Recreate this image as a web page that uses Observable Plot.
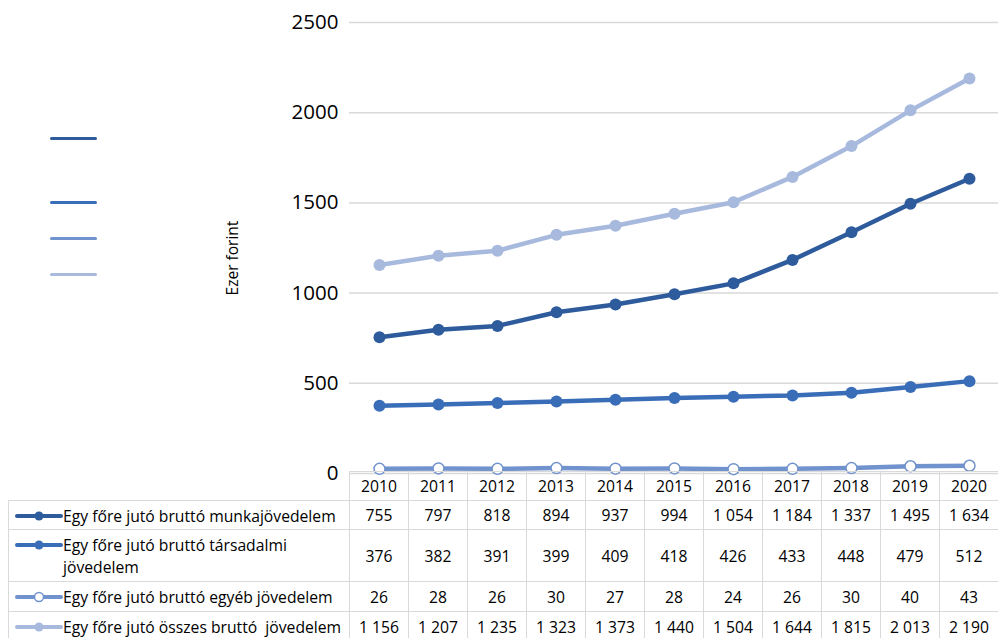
<!DOCTYPE html>
<html>
<head>
<meta charset="utf-8">
<script src="https://cdn.jsdelivr.net/npm/d3@7"></script>
<script src="https://cdn.jsdelivr.net/npm/@observablehq/plot@0.6"></script>
<style>
  html, body { margin: 0; padding: 0; background: #fff; }
  #wrap { position: relative; width: 998px; height: 638px; overflow: hidden; font-family: "Open Sans", sans-serif; }
  #chart { position: absolute; left: 0; top: 0; }
  .leg { position: absolute; left: 50px; width: 47px; height: 3px; border-radius: 1.5px; }
  #ylab { position: absolute; left: 232px; top: 258px; transform: translate(-50%, -50%) rotate(-90deg); font-size: 15.5px; color: #000; white-space: nowrap; }
  table { position: absolute; left: 8px; top: 471px; border-collapse: collapse; table-layout: fixed; width: 990px; font-size: 15.7px; color: #000; }
  td { border: 1.5px solid #d9d9d9; text-align: center; padding: 0; white-space: nowrap; }
  td.blank { border: none; }
  td.lab { text-align: left; white-space: normal; vertical-align: top; }
  .labin { display: flex; align-items: flex-start; }
  .labin svg { flex: 0 0 auto; margin-left: 6px; }
  .labin span { white-space: pre-wrap; line-height: 22px; }
</style>
</head>
<body>
<div id="wrap">
  <div id="chart"></div>
  <div id="ylab">Ezer forint</div>
  <table id="tbl"></table>
</div>
<script>
const years = ["2010","2011","2012","2013","2014","2015","2016","2017","2018","2019","2020"];
const munka = [755, 797, 818, 894, 937, 994, 1054, 1184, 1337, 1495, 1634];
const tarsadalmi = [376, 382, 391, 399, 409, 418, 426, 433, 448, 479, 512];
const egyeb = [26, 28, 26, 30, 27, 28, 24, 26, 30, 40, 43];
const osszes = [1156, 1207, 1235, 1323, 1373, 1440, 1504, 1644, 1815, 2013, 2190];
const seriesNames = [
  "Egy főre jutó bruttó munkajövedelem",
  "Egy főre jutó bruttó társadalmi jövedelem",
  "Egy főre jutó bruttó egyéb jövedelem",
  "Egy főre jutó összes bruttó  jövedelem"
];
const yTicks = [0, 500, 1000, 1500, 2000, 2500];

const seriesValues = [munka, tarsadalmi, egyeb, osszes];
const colors = ["#2e5b9c", "#3a6db8", "#7092cd", "#a8b9de"];
const hollow = [false, false, true, false];

const rows = [];
seriesValues.forEach((vals, si) => vals.forEach((v, i) => rows.push({year: years[i], value: v, s: si})));

const marks = [
  Plot.gridY(yTicks, {stroke: "#d9d9d9", strokeOpacity: 1, strokeWidth: 1.5}),
  Plot.axisY(yTicks, {tickSize: 0, tickPadding: 11, fontSize: 20.5, fill: "#000", tickFormat: d => String(d), label: null, fontFamily: "Open Sans"})
];
seriesValues.forEach((vals, si) => {
  const data = rows.filter(r => r.s === si);
  marks.push(Plot.line(data, {x: "year", y: "value", stroke: colors[si], strokeWidth: 4.5, curve: "linear"}));
  marks.push(Plot.dot(data, {x: "year", y: "value", r: hollow[si] ? 5.5 : 6,
    fill: hollow[si] ? "#fff" : colors[si], stroke: colors[si], strokeWidth: hollow[si] ? 1.5 : 0}));
});

const chart = Plot.plot({
  width: 998,
  height: 478,
  marginLeft: 349,
  marginRight: 0,
  marginTop: 22,
  marginBottom: 5,
  x: {type: "point", domain: years, padding: 0.5, axis: null},
  y: {domain: [0, 2500], axis: null},
  style: {fontFamily: "Open Sans", background: "transparent", overflow: "visible"},
  marks
});
document.getElementById("chart").appendChild(chart);

// orphan legend keys on the left
const legY = [138, 202, 238, 274];
const wrap = document.getElementById("wrap");
legY.forEach((y, i) => {
  const d = document.createElement("div");
  d.className = "leg";
  d.style.top = (y - 1.5) + "px";
  d.style.background = colors[i];
  wrap.appendChild(d);
});

// data table
const fmt = n => String(n).replace(/\B(?=(\d{3})+(?!\d))/g, " ");
const rowHeights = [29, 29, 52, 30, 30];
const tbl = document.getElementById("tbl");
let html = "<colgroup><col style='width:341px'>" + years.map(() => "<col style='width:59px'>").join("") + "</colgroup>";
html += `<tr style="height:${rowHeights[0]}px"><td class="blank"></td>` + years.map(y => `<td>${y}</td>`).join("") + "</tr>";
seriesValues.forEach((vals, si) => {
  const key = `<svg width="48" height="22" viewBox="0 0 48 22"><line x1="2" x2="46" y1="11" y2="11" stroke="${colors[si]}" stroke-width="4" stroke-linecap="round"/><circle cx="24" cy="11" r="4.5" fill="${hollow[si] ? "#fff" : colors[si]}" stroke="${colors[si]}" stroke-width="${hollow[si] ? 1.5 : 0}"/></svg>`;
  const pad = si === 1 ? 4 : Math.round((rowHeights[si + 1] - 22) / 2);
  html += `<tr style="height:${rowHeights[si + 1]}px"><td class="lab"><div class="labin" style="padding-top:${pad}px">${key}<span>${seriesNames[si]}</span></div></td>` +
    vals.map(v => `<td>${fmt(v)}</td>`).join("") + "</tr>";
});
tbl.innerHTML = html;
</script>
</body>
</html>
